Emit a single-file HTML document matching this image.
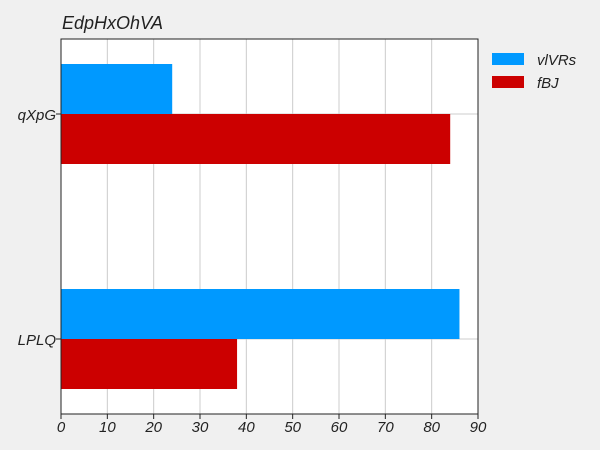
<!DOCTYPE html>
<html><head><meta charset="utf-8"><style>
html,body{margin:0;padding:0;background:#f0f0f0;}
svg{display:block;font-family:"Liberation Sans",sans-serif;font-style:italic;}
</style></head><body>
<svg id="chart" width="600" height="450">
<rect x="0" y="0" width="600" height="450" fill="#f0f0f0"/>
<text x="62" y="29" font-size="18" fill="#222">EdpHxOhVA</text>
<rect x="61" y="39" width="417" height="375" fill="#fff"/>
<g id="grid"></g>
<g id="bars"></g>
<rect x="61" y="39" width="417" height="375" fill="none" stroke="#222" stroke-width="1"/>
<g id="axes"></g>
<g>
<rect x="492" y="53" width="32" height="12" fill="#0099ff"/>
<text x="537" y="65" font-size="15" fill="#222">vlVRs</text>
<rect x="492" y="76" width="32" height="12" fill="#cc0000"/>
<text x="537" y="88" font-size="15" fill="#222">fBJ</text>
</g>
</svg>
<script>
const categories = ["qXpG", "LPLQ"];
const seriesNames = ["vlVRs", "fBJ"];
const vlVRsValues = [24, 86];
const fBJValues = [84, 38];
const xTicks = [0,10,20,30,40,50,60,70,80,90];
const colors = ["#0099ff", "#cc0000"];

const NS = "http://www.w3.org/2000/svg";
const L = 61, R = 478, T = 39, B = 414;
const xMax = 90;
const xScale = v => L + (v / xMax) * (R - L);
const step = (B - T) / (categories.length + 2/3 - 1 + 1) ; // placeholder overwritten below
const bandStep = (B - T) / (categories.length - 1 + 2 * (1/3) + 1 - 1 + 1/3 * 0) ;
// centers: outer padding = step/3 each side
const stepC = (B - T) / (categories.length - 1 + 2/3 * 1 + 2/3 * 0 + 0) ;
const st = (B - T) / ((categories.length - 1) + 2/3);
const yCenter = i => T + st/3 + i * st;
const barH = 50;

function mk(tag, attrs, parent){const e=document.createElementNS(NS,tag);for(const k in attrs)e.setAttribute(k,attrs[k]);parent.appendChild(e);return e;}
const grid = document.getElementById("grid"), bars = document.getElementById("bars"), axes = document.getElementById("axes");

xTicks.forEach(t => {
  const x = xScale(t);
  const g = mk("line",{x1:x,x2:x,y1:T,y2:B,stroke:"#cccccc","stroke-width":1},grid);
  
  
  const tk = mk("line",{x1:x,x2:x,y1:B,y2:B+5,stroke:"#222","stroke-width":1},axes);
  
  
  const lb = mk("text",{x:x,y:B+18,"font-size":15,fill:"#222","text-anchor":"middle"},axes);
  lb.textContent = t;
  
  
});

const seriesVals = [vlVRsValues, fBJValues];
categories.forEach((c, i) => {
  const yc = yCenter(i);
  const gl = mk("line",{x1:L,x2:R,y1:yc,y2:yc,stroke:"#cccccc","stroke-width":1},grid);
  
  
  const tk = mk("line",{x1:L-5,x2:L,y1:yc,y2:yc,stroke:"#222","stroke-width":1},axes);
  
  
  const lb = mk("text",{x:L-5,y:yc+6,"font-size":15,fill:"#222","text-anchor":"end"},axes);
  lb.textContent = c;
  
  
  seriesVals.forEach((vals, s) => {
    const y = yc - barH + s * barH;
    const r = mk("rect",{x:xScale(0),y:y,width:xScale(vals[i])-xScale(0),height:barH,fill:colors[s]},bars);
    
    
  });
});
</script>
</body></html>
